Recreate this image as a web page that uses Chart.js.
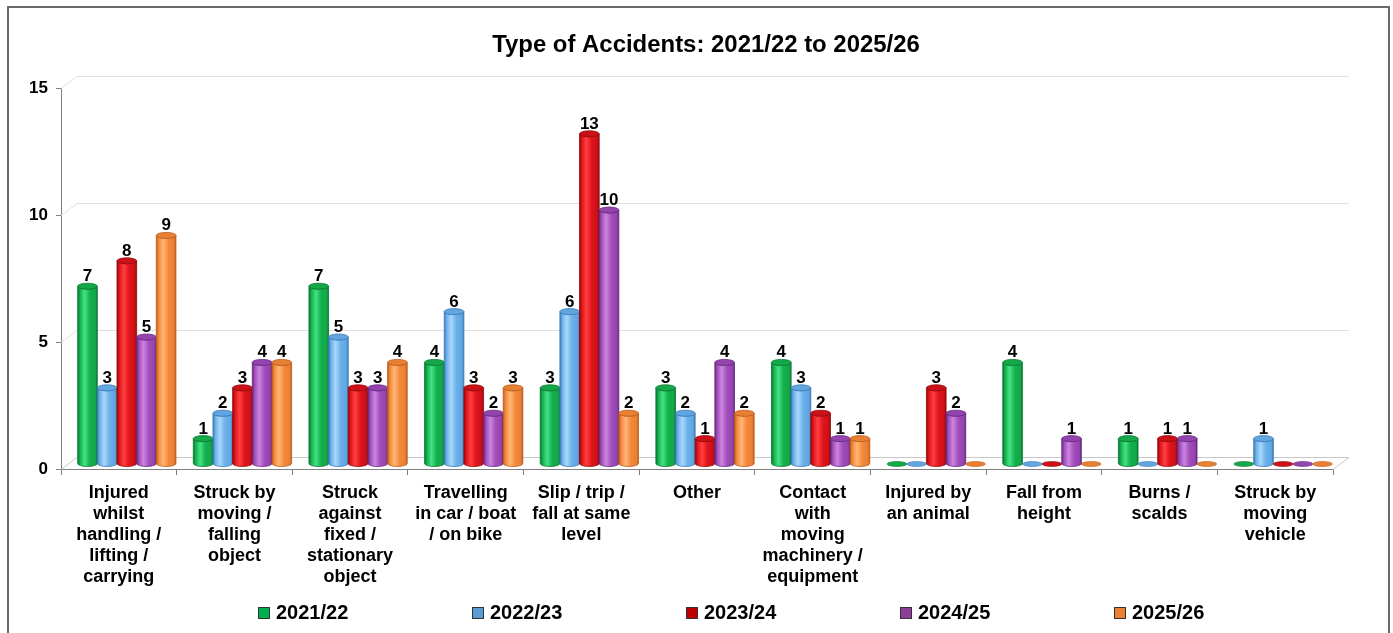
<!DOCTYPE html>
<html>
<head>
<meta charset="utf-8">
<title>Type of Accidents</title>
<script src="https://cdn.jsdelivr.net/npm/chart.js@4.4.1/dist/chart.umd.min.js"></script>
<style>
  html, body { margin: 0; padding: 0; background: #ffffff; }
  canvas { display: block; }
</style>
</head>
<body>
<canvas id="accidentsChart" width="1393" height="633"></canvas>
<script>
// Accident categories (multi-line axis labels)
const categories = [
  ["Injured", "whilst", "handling /", "lifting /", "carrying"],
  ["Struck by", "moving /", "falling", "object"],
  ["Struck", "against", "fixed /", "stationary", "object"],
  ["Travelling", "in car / boat", "/ on bike"],
  ["Slip / trip /", "fall at same", "level"],
  ["Other"],
  ["Contact", "with", "moving", "machinery /", "equipment"],
  ["Injured by", "an animal"],
  ["Fall from", "height"],
  ["Burns /", "scalds"],
  ["Struck by", "moving", "vehicle"]
];

const seriesNames = ["2021/22", "2022/23", "2023/24", "2024/25", "2025/26"];

const values2122 = [7, 1, 7, 4, 3, 3, 4, 0, 4, 1, 0];
const values2223 = [3, 2, 5, 6, 6, 2, 3, 0, 0, 0, 1];
const values2324 = [8, 3, 3, 3, 13, 1, 2, 3, 0, 1, 0];
const values2425 = [5, 4, 3, 2, 10, 4, 1, 2, 1, 1, 0];
const values2526 = [9, 4, 4, 3, 2, 2, 1, 0, 0, 0, 0];

const yTicks = [0, 5, 10, 15];

// cylinder shading per series + flat legend swatch colour
const palettes = [
  { base: "#12B04C", light: "#45E285", dark: "#0A7632", cap: "#14A848", swatch: "#00B050" },
  { base: "#6AB0EA", light: "#A8D8FB", dark: "#3A7AB6", cap: "#62A6E0", swatch: "#5B9BD5" },
  { base: "#E0141C", light: "#FF4040", dark: "#950808", cap: "#CC1018", swatch: "#C00000" },
  { base: "#A24DBB", light: "#CB86DE", dark: "#66287C", cap: "#9444AE", swatch: "#8E3D9A" },
  { base: "#F4883A", light: "#FFB878", dark: "#BC5C1A", cap: "#E88034", swatch: "#ED7D31" }
];

const FONT = "Arial, 'Liberation Sans', sans-serif";
const BACK_DX = 16, BACK_DY = -12;  // depth of the back wall
const BAR_DX = 8, BAR_DY = -5;      // cylinders sit half way into the floor

// floor, back wall gridlines, cylinders, title, legend and frame
const wallPlugin = {
  id: "walls",
  beforeDatasetsDraw(chart) {
    const { ctx, chartArea } = chart;
    const { left, right, bottom } = chartArea;
    const ys = chart.scales.y;
    ctx.save();
    ctx.lineWidth = 1;
    yTicks.forEach((v) => {
      const py = Math.round(ys.getPixelForValue(v)) + 0.5;
      ctx.strokeStyle = v === 0 ? "#c8c8c8" : "#e0e0e0";
      ctx.beginPath();
      ctx.moveTo(left, py);
      ctx.lineTo(left + BACK_DX, py + BACK_DY);
      ctx.lineTo(right + BACK_DX, py + BACK_DY);
      ctx.stroke();
    });
    // right edge of the floor
    ctx.strokeStyle = "#c8c8c8";
    ctx.beginPath();
    ctx.moveTo(right, bottom + 0.5);
    ctx.lineTo(right + BACK_DX, bottom + 0.5 + BACK_DY);
    ctx.stroke();
    ctx.restore();
  },
  afterDatasetsDraw(chart) {
    const { ctx } = chart;
    ctx.save();
    chart.data.datasets.forEach((ds, di) => {
      const pal = palettes[di];
      chart.getDatasetMeta(di).data.forEach((bar, i) => {
        const v = ds.data[i];
        const w = bar.width;
        const cx = bar.x + BAR_DX;
        const rx = w / 2;
        const base = bar.base + BAR_DY;
        if (v === 0) {
          drawDisc(ctx, cx, base, rx, 2.5, pal);
          return;
        }
        const top = bar.y + BAR_DY;
        const ry = 3;
        drawCylinder(ctx, cx, rx, ry, top, base, pal);
        ctx.fillStyle = "#000000";
        ctx.font = "bold 17px " + FONT;
        ctx.textAlign = "center";
        ctx.textBaseline = "alphabetic";
        ctx.fillText(String(v), cx, top - ry - 2);
      });
    });
    ctx.restore();
  },
  afterDraw(chart) {
    const { ctx } = chart;
    ctx.save();
    // title, a touch wider than the plain font
    ctx.fillStyle = "#000000";
    ctx.font = "bold 23px " + FONT;
    ctx.textAlign = "center";
    ctx.textBaseline = "alphabetic";
    ctx.save();
    ctx.translate(706, 52);
    ctx.scale(1.04, 1);
    ctx.fillText("Type of Accidents: 2021/22 to 2025/26", 0, 0);
    ctx.restore();
    // legend
    ctx.font = "bold 20px " + FONT;
    ctx.textAlign = "left";
    seriesNames.forEach((name, i) => {
      const x = 258 + i * 214;
      ctx.fillStyle = palettes[i].swatch;
      ctx.fillRect(x, 607, 11, 11);
      ctx.strokeStyle = "#333333";
      ctx.lineWidth = 1;
      ctx.strokeRect(x + 0.5, 607.5, 11, 11);
      ctx.fillStyle = "#000000";
      ctx.fillText(name, x + 18, 619);
    });
    // outer frame
    ctx.strokeStyle = "#6a6a6a";
    ctx.lineWidth = 2;
    ctx.strokeRect(8, 7, 1381, 640);
    ctx.restore();
  }
};

function drawCylinder(ctx, cx, rx, ry, top, base, pal) {
  const l = cx - rx, r = cx + rx;
  const g = ctx.createLinearGradient(l, 0, r, 0);
  g.addColorStop(0, pal.dark);
  g.addColorStop(0.12, pal.base);
  g.addColorStop(0.35, pal.light);
  g.addColorStop(0.62, pal.base);
  g.addColorStop(0.9, pal.cap);
  g.addColorStop(1, pal.dark);
  ctx.beginPath();
  ctx.moveTo(l, top);
  ctx.lineTo(l, base);
  ctx.ellipse(cx, base, rx, ry, 0, Math.PI, 0, true);
  ctx.lineTo(r, top);
  ctx.ellipse(cx, top, rx, ry, 0, 0, Math.PI, false);
  ctx.closePath();
  ctx.fillStyle = g;
  ctx.fill();
  ctx.strokeStyle = pal.dark;
  ctx.lineWidth = 0.8;
  ctx.stroke();
  // top cap
  ctx.beginPath();
  ctx.ellipse(cx, top, rx, ry, 0, 0, Math.PI * 2);
  ctx.fillStyle = pal.cap;
  ctx.fill();
  ctx.stroke();
}

function drawDisc(ctx, cx, y, rx, ry, pal) {
  ctx.beginPath();
  ctx.ellipse(cx, y, rx, ry, 0, 0, Math.PI * 2);
  ctx.fillStyle = pal.cap;
  ctx.fill();
  ctx.strokeStyle = pal.dark;
  ctx.lineWidth = 0.6;
  ctx.stroke();
}

const seriesValues = [values2122, values2223, values2324, values2425, values2526];

new Chart(document.getElementById("accidentsChart"), {
  type: "bar",
  data: {
    labels: categories,
    datasets: seriesNames.map((name, i) => ({
      label: name,
      data: seriesValues[i],
      backgroundColor: "rgba(0,0,0,0)",
      borderWidth: 0,
      barPercentage: 1,
      categoryPercentage: 0.85
    }))
  },
  options: {
    responsive: false,
    devicePixelRatio: 1,
    animation: false,
    layout: { padding: { top: 88, right: 60, left: 0, bottom: 0 } },
    plugins: {
      legend: { display: false },
      title: { display: false },
      tooltip: { enabled: false }
    },
    scales: {
      x: {
        afterFit(scale) { scale.height = 164; },
        grid: {
          display: true,
          offset: true,
          drawOnChartArea: false,
          drawTicks: true,
          tickLength: 6,
          color: "#808080"
        },
        border: { display: true, color: "#808080" },
        ticks: {
          autoSkip: false,
          maxRotation: 0,
          minRotation: 0,
          padding: 8,
          color: "#000000",
          font: { family: FONT, size: 18, weight: "bold", lineHeight: 1.16 }
        }
      },
      y: {
        min: 0,
        max: 15,
        afterFit(scale) { scale.width = 61; },
        afterBuildTicks(scale) { scale.ticks = yTicks.map((v) => ({ value: v })); },
        grid: {
          display: true,
          drawOnChartArea: false,
          drawTicks: true,
          tickLength: 5,
          color: "#808080"
        },
        border: { display: true, color: "#808080" },
        ticks: {
          padding: 8,
          color: "#000000",
          font: { family: FONT, size: 17, weight: "bold" }
        }
      }
    }
  },
  plugins: [wallPlugin]
});
</script>
</body>
</html>
